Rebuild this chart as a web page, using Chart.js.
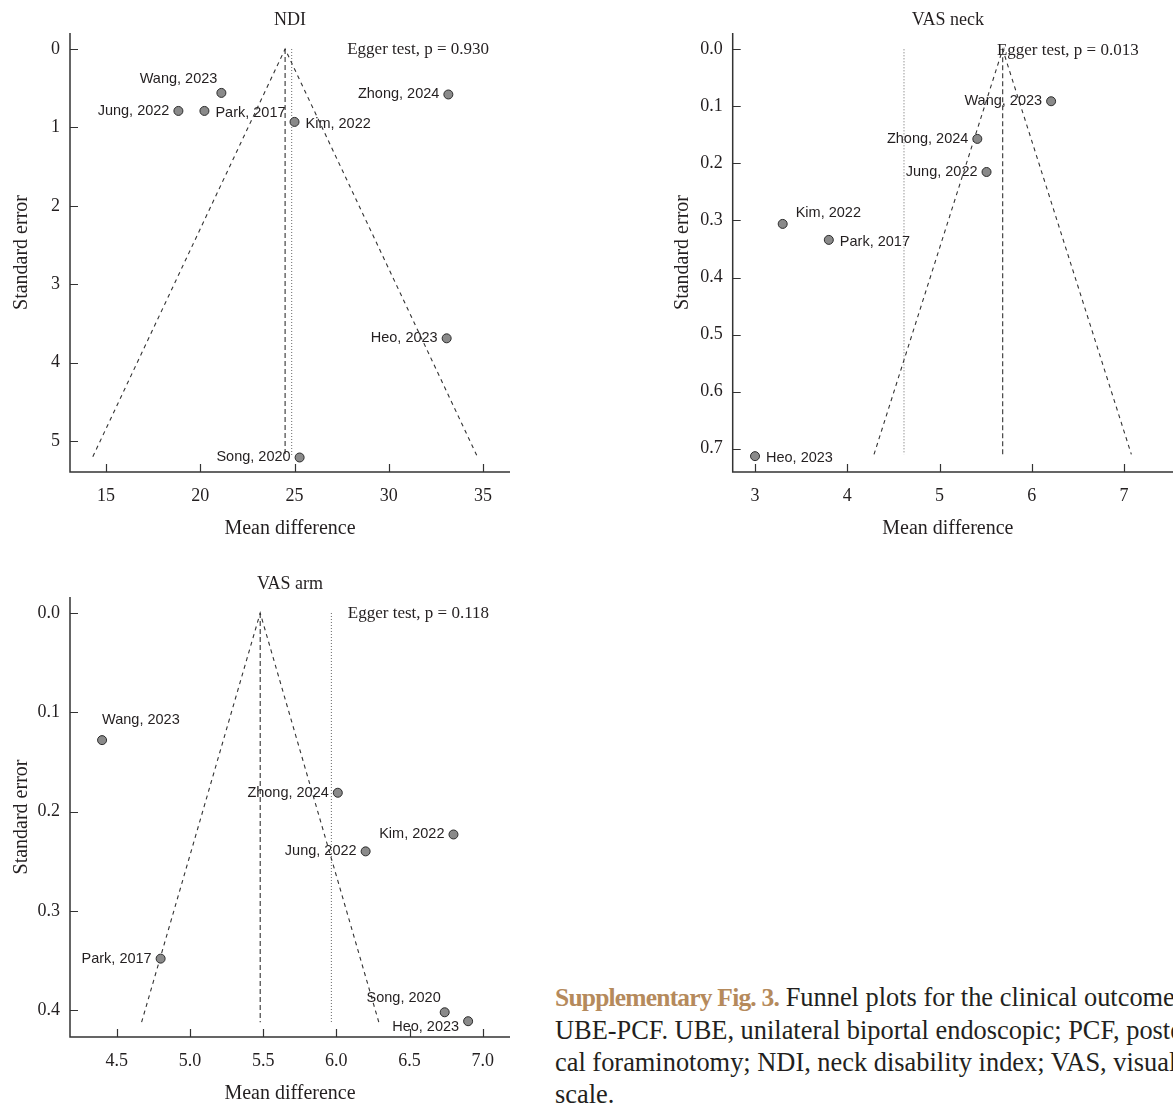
<!DOCTYPE html>
<html>
<head>
<meta charset="utf-8">
<script src="https://cdn.jsdelivr.net/npm/chart.js@4.4.1/dist/chart.umd.min.js"></script>
<style>
  html, body { margin: 0; padding: 0; background: #fff; }
  body { width: 1173px; height: 1107px; overflow: hidden; position: relative; }
  canvas { position: absolute; }
  #caption {
    position: absolute; left: 555px; top: 981px;
    font-family: "Liberation Serif", serif; font-size: 26.4px; line-height: 32px;
    color: #231f20; white-space: nowrap;
  }
  #caption b { color: #b58a5c; font-size: 25.5px; letter-spacing: -0.8px; }
</style>
</head>
<body>
<canvas id="ndiChart" width="530" height="547" style="left:0;top:0"></canvas>
<canvas id="neckChart" width="560" height="547" style="left:640px;top:0"></canvas>
<canvas id="armChart" width="530" height="548" style="left:0;top:564px"></canvas>
<div id="caption">
  <div><b>Supplementary Fig. 3.</b> Funnel plots for the clinical outcomes of</div>
  <div>UBE-PCF. UBE, unilateral biportal endoscopic; PCF, posterior cervi-</div>
  <div>cal foraminotomy; NDI, neck disability index; VAS, visual analogue</div>
  <div>scale.</div>
</div>
<script>
// NDI
const ndiStudies = ['Wang, 2023', 'Jung, 2022', 'Park, 2017', 'Zhong, 2024', 'Kim, 2022', 'Heo, 2023', 'Song, 2020'];
const ndiMD = [21.12, 18.84, 20.22, 33.16, 25.0, 33.07, 25.27];
const ndiSE = [0.56, 0.79, 0.79, 0.58, 0.93, 3.69, 5.21];
const ndiFunnelX = [14.3, 24.5, 34.7];
const ndiFunnelY = [5.2, 0, 5.2];
const ndiPooled = 24.5;
const ndiDotted = 24.85;
const ndiXTicks = [15, 20, 25, 30, 35];
const ndiYTicks = [0, 1, 2, 3, 4, 5];
const ndiEgger = 'Egger test, p = 0.930';

// VAS neck
const neckStudies = ['Wang, 2023', 'Zhong, 2024', 'Jung, 2022', 'Kim, 2022', 'Park, 2017', 'Heo, 2023'];
const neckMD = [6.21, 5.41, 5.51, 3.30, 3.80, 3.00];
const neckSE = [0.091, 0.157, 0.215, 0.306, 0.334, 0.713];
const neckFunnelX = [4.29, 5.685, 7.08];
const neckFunnelY = [0.71, 0, 0.71];
const neckPooled = 5.685;
const neckDotted = 4.615;
const neckXTicks = [3, 4, 5, 6, 7];
const neckYTicks = [0, 0.1, 0.2, 0.3, 0.4, 0.5, 0.6, 0.7];
const neckEgger = 'Egger test, p = 0.013';

// VAS arm
const armStudies = ['Wang, 2023', 'Zhong, 2024', 'Kim, 2022', 'Jung, 2022', 'Park, 2017', 'Song, 2020', 'Heo, 2023'];
const armMD = [4.40, 6.01, 6.80, 6.20, 4.80, 6.74, 6.90];
const armSE = [0.128, 0.181, 0.223, 0.240, 0.348, 0.402, 0.411];
const armFunnelX = [4.67, 5.48, 6.29];
const armFunnelY = [0.412, 0, 0.412];
const armPooled = 5.48;
const armDotted = 5.966;
const armXTicks = [4.5, 5.0, 5.5, 6.0, 6.5, 7.0];
const armYTicks = [0, 0.1, 0.2, 0.3, 0.4];
const armEgger = 'Egger test, p = 0.118';

// vị trí nhãn so với điểm
const ndiSpots = ['al', 'l', 'r', 'l', 'r', 'l', 'l'];
const neckSpots = ['l', 'l', 'l', 'ar', 'r', 'r'];
const armSpots = ['a', 'l', 'l', 'l', 'l', 'al', 'bl'];

const spotOffset = {
    l:  { dx: -9, dy: 0, align: 'right' },
    r:  { dx: 11, dy: 2, align: 'left' },
    al: { dx: -4, dy: -14, align: 'right' },
    ar: { dx: 13, dy: -11, align: 'left' },
    a:  { dx: 0, dy: -20, align: 'left' },
    bl: { dx: -9, dy: 6, align: 'right' }
};

const ink = '#231f20';
const serif = 'Liberation Serif';

// vẽ trục, vạch chia hướng vào trong, chữ Egger và nhãn điểm
const funnelDecor = {
    id: 'funnelDecor',
    afterDraw(chart, args, opts) {
        const ctx = chart.ctx;
        const a = chart.chartArea;
        const xs = chart.scales.x, ys = chart.scales.y;
        ctx.save();
        ctx.strokeStyle = '#333';
        ctx.lineWidth = 1.5;
        ctx.beginPath();
        ctx.moveTo(a.left, a.top);
        ctx.lineTo(a.left, a.bottom);
        ctx.lineTo(opts.extendAxis ? chart.width : a.right, a.bottom);
        ctx.stroke();
        ctx.lineWidth = 1.2;
        ctx.beginPath();
        opts.xTicks.forEach(v => {
            const px = Math.round(xs.getPixelForValue(v)) + 0.5;
            ctx.moveTo(px, a.bottom);
            ctx.lineTo(px, a.bottom - 8);
        });
        opts.yTicks.forEach(v => {
            const py = Math.round(ys.getPixelForValue(v)) + 0.5;
            ctx.moveTo(a.left, py);
            ctx.lineTo(a.left + 8, py);
        });
        ctx.stroke();

        ctx.fillStyle = ink;
        ctx.font = '17px "' + serif + '"';
        ctx.textAlign = 'right';
        ctx.textBaseline = 'middle';
        ctx.fillText(opts.egger, a.left + opts.eggerDx, ys.getPixelForValue(0) + 1);

        ctx.font = '14.5px "Liberation Sans"';
        const meta = chart.getDatasetMeta(0);
        meta.data.forEach((pt, i) => {
            const o = spotOffset[opts.spots[i]];
            ctx.textAlign = o.align;
            ctx.fillText(opts.studies[i], pt.x + o.dx, pt.y + o.dy);
        });
        ctx.restore();
    }
};

function makeFunnel(id, c) {
    const pts = c.md.map((x, i) => ({ x: x, y: c.se[i] }));
    const funnel = c.funnelX.map((x, i) => ({ x: x, y: c.funnelY[i] }));
    const bottom = c.funnelY[0];
    return new Chart(document.getElementById(id), {
        type: 'scatter',
        data: {
            datasets: [{
                data: pts,
                pointRadius: 4.5,
                pointHoverRadius: 4.5,
                backgroundColor: '#8a8a8a',
                borderColor: '#2b2b2b',
                borderWidth: 1,
                order: 0
            }, {
                type: 'line',
                data: funnel,
                borderColor: '#333',
                borderWidth: 1.1,
                borderDash: [4, 4],
                pointRadius: 0,
                fill: false,
                tension: 0,
                order: 1
            }, {
                type: 'line',
                data: [{ x: c.pooled, y: 0 }, { x: c.pooled, y: bottom }],
                borderColor: '#333',
                borderWidth: 1.1,
                borderDash: [5, 3],
                pointRadius: 0,
                fill: false,
                order: 2
            }, {
                type: 'line',
                data: [{ x: c.dotted, y: 0 }, { x: c.dotted, y: bottom }],
                borderColor: '#666',
                borderWidth: 1,
                borderDash: [1, 2],
                pointRadius: 0,
                fill: false,
                order: 3
            }]
        },
        options: {
            responsive: false,
            animation: false,
            devicePixelRatio: 1,
            layout: { padding: { right: c.padRight } },
            plugins: {
                legend: { display: false },
                tooltip: { enabled: false },
                title: {
                    display: true,
                    text: c.title,
                    fullSize: false,
                    color: ink,
                    font: { family: serif, size: 18, weight: 'normal' },
                    padding: { top: 9, bottom: 2.4 }
                },
                funnelDecor: {
                    xTicks: c.xTicks, yTicks: c.yTicks, egger: c.egger, eggerDx: c.eggerDx,
                    studies: c.studies, spots: c.spots, extendAxis: c.extendAxis
                }
            },
            scales: {
                x: {
                    type: 'linear',
                    min: c.xMin, max: c.xMax,
                    afterBuildTicks: s => { s.ticks = c.xTicks.map(v => ({ value: v })); },
                    afterFit: s => { s.height = 75; },
                    grid: { display: false, drawTicks: false },
                    border: { display: false },
                    ticks: {
                        padding: 13, color: ink, autoSkip: false, maxRotation: 0,
                        font: { family: serif, size: 18 },
                        callback: v => v.toFixed(c.xDigits)
                    },
                    title: {
                        display: true, text: 'Mean difference', color: ink,
                        font: { family: serif, size: 20 },
                        padding: { top: 0, bottom: 6 }
                    }
                },
                y: {
                    type: 'linear',
                    reverse: true,
                    min: c.yMin, max: c.yMax,
                    afterBuildTicks: s => { s.ticks = c.yTicks.map(v => ({ value: v })); },
                    afterFit: s => { s.width = c.yWidth; },
                    grid: { display: false, drawTicks: false },
                    border: { display: false },
                    ticks: {
                        padding: 10, color: ink, autoSkip: false,
                        font: { family: serif, size: 18 },
                        callback: v => v.toFixed(c.yDigits)
                    },
                    title: {
                        display: true, text: 'Standard error', color: ink,
                        font: { family: serif, size: 20 },
                        padding: { top: c.yTitlePad, bottom: 0 }
                    }
                }
            }
        },
        plugins: [funnelDecor]
    });
}

makeFunnel('ndiChart', {
    title: 'NDI', studies: ndiStudies, md: ndiMD, se: ndiSE, spots: ndiSpots,
    funnelX: ndiFunnelX, funnelY: ndiFunnelY, pooled: ndiPooled, dotted: ndiDotted,
    xTicks: ndiXTicks, yTicks: ndiYTicks, xDigits: 0, yDigits: 0,
    xMin: 13.09, xMax: 36.43, yMin: -0.204, yMax: 5.395,
    egger: ndiEgger, eggerDx: 419, yWidth: 70, yTitlePad: 10, padRight: 20, extendAxis: false
});

makeFunnel('neckChart', {
    title: 'VAS neck', studies: neckStudies, md: neckMD, se: neckSE, spots: neckSpots,
    funnelX: neckFunnelX, funnelY: neckFunnelY, pooled: neckPooled, dotted: neckDotted,
    xTicks: neckXTicks, yTicks: neckYTicks, xDigits: 0, yDigits: 1,
    xMin: 2.758, xMax: 7.423, yMin: -0.0286, yMax: 0.7408,
    egger: neckEgger, eggerDx: 406, yWidth: 92.7, yTitlePad: 31, padRight: 37, extendAxis: true
});

makeFunnel('armChart', {
    title: 'VAS arm', studies: armStudies, md: armMD, se: armSE, spots: armSpots,
    funnelX: armFunnelX, funnelY: armFunnelY, pooled: armPooled, dotted: armDotted,
    xTicks: armXTicks, yTicks: armYTicks, xDigits: 1, yDigits: 1,
    xMin: 4.181, xMax: 7.186, yMin: -0.0161, yMax: 0.4269,
    egger: armEgger, eggerDx: 419, yWidth: 70, yTitlePad: 10, padRight: 20, extendAxis: false
});
</script>
</body>
</html>
